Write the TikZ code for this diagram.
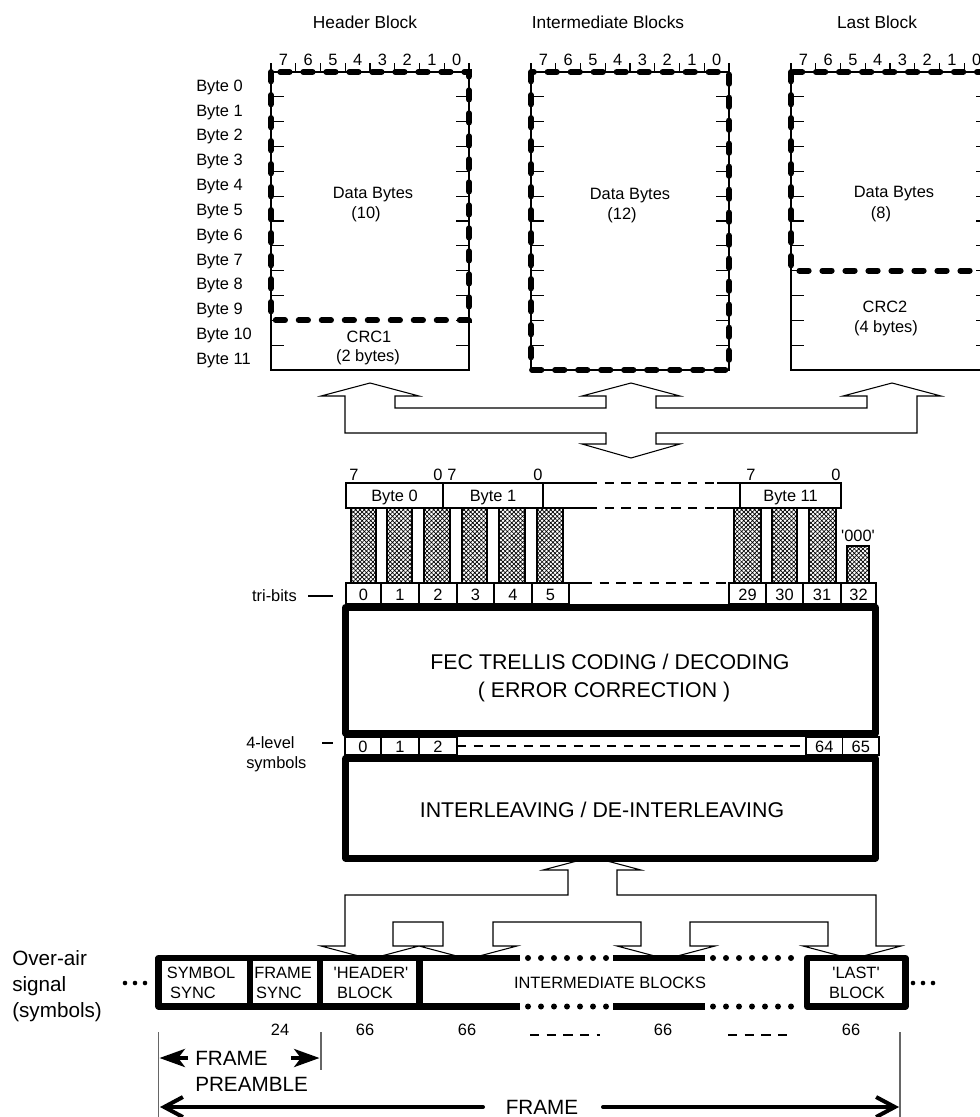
\documentclass[tikz,border=0pt]{standalone}
\usepackage{fontspec}
\setmainfont{Liberation Sans}
\usetikzlibrary{patterns.meta,arrows.meta}
\newcommand\fsA{\fontsize{12.3}{14}\selectfont}
\newcommand\fsB{\fontsize{16}{18}\selectfont}
\newcommand\fsC{\fontsize{15.5}{18}\selectfont}
\newcommand\fsT{\fontsize{13}{15}\selectfont}
\newcommand\sq{\textquotesingle}
\begin{document}
\begin{tikzpicture}[x=0.75pt,y=-0.75pt,
  txt/.style={inner sep=0pt, font=\fsA, text height=8.8pt, text depth=0pt},
  ttl/.style={inner sep=0pt, font=\fsT, text height=9.3pt, text depth=0pt},
  big/.style={inner sep=0pt, font=\fsB, text height=11.5pt, text depth=0pt},
  mid/.style={inner sep=0pt, font=\fsC, text height=11.1pt, text depth=0pt},
  hair/.style={line width=0.8pt},
  dbox/.style={line width=4.4pt, dash pattern=on 7pt off 10.25pt, line cap=round},
  heavy/.style={line width=5.25pt, line join=round},
  frm/.style={line width=4.8pt, line join=round},
  dotline/.style={line width=4.5pt, dash pattern=on 0pt off 9.75pt, line cap=round},
  finedash/.style={hair, dash pattern=on 7pt off 5.5pt},
  hatchbar/.style={hair, pattern={Hatch[angle=45,distance=2.3pt,line width=0.5pt]}},
  guide/.style={line width=0.9pt, black!60},
  ]
\useasboundingbox (0,0) rectangle (980,1117);

% ---------- titles ----------
\node[ttl] (tH) at (365,22) {Header Block};
\node[ttl] (tI) at (608,22) {Intermediate Blocks};
\node[ttl] (tL) at (877,22) {Last Block};

% ---------- top blocks ----------
\foreach \L/\nd/\nm in {271/10/h, 531/12/i, 791/8/l} {
  \draw[hair] (\L,72) rectangle ({\L+198},370);
  \foreach \k in {1,...,11} {
    \draw[hair] (\L,{72+24.83*\k}) -- ++(13,0);
    \draw[hair] ({\L+198},{72+24.83*\k}) -- ++(-13,0);
  }
  \foreach \k in {0,...,8} \draw[hair] ({\L+24.75*\k},63) -- ({\L+24.75*\k},72);
  \foreach \b [count=\c from 0] in {7,6,5,4,3,2,1,0}
    \node[txt] (bit-\nm-\b) at ({\L+24.75*\c+12.4},60) {\b};
  \draw[dbox] (\L,72) rectangle ({\L+198},{72+24.83*\nd});
}
\foreach \i in {0,...,11}
  \node[txt, anchor=west] (byte\i) at (196,{72+24.83*(\i+0.5)+1}) {Byte \i};

\node[txt] (dh1) at (373,193) {Data Bytes};
\node[txt] (dh2) at (366,213) {(10)};
\node[txt] (di1) at (630,194) {Data Bytes};
\node[txt] (di2) at (622,214) {(12)};
\node[txt] (dl1) at (894,192) {Data Bytes};
\node[txt] (dl2) at (881,213) {(8)};
\node[txt] (c11) at (369,337) {CRC1};
\node[txt] (c12) at (368,356) {(2 bytes)};
\node[txt] (c21) at (885,307) {CRC2};
\node[txt] (c22) at (886,327) {(4 bytes)};

% ---------- upper fork arrow ----------
\draw[hair, fill=white] (370,383) -- (419,396) -- (395,396) -- (395,408) -- (606,408)
  -- (606,396) -- (582,396) -- (631,383) -- (680,396) -- (656,396) -- (656,408)
  -- (867,408) -- (867,396) -- (843,396) -- (892,383) -- (941,396) -- (917,396)
  -- (917,433) -- (656,433) -- (656,444) -- (680,444) -- (631,458) -- (582,444)
  -- (606,444) -- (606,433) -- (345,433) -- (345,396) -- (321,396) -- cycle;

% ---------- byte row ----------
\draw[hair] (346,483) rectangle (443,508);
\draw[hair] (443,483) rectangle (543,508);
\draw[hair] (740,483) rectangle (841,508);
\foreach \yy in {483,508} {
  \draw[hair] (543,\yy) -- (588,\yy);
  \draw[finedash] (588,\yy) -- (717,\yy);
  \draw[hair] (717,\yy) -- (740,\yy);
}
\node[txt] (by0) at (394.5,496) {Byte 0};
\node[txt] (by1) at (493,496) {Byte 1};
\node[txt] (by11) at (790.5,496) {Byte 11};
\node[txt] (n7a) at (354,475) {7};
\node[txt] (n0a) at (438,475) {0};
\node[txt] (n7b) at (452,475) {7};
\node[txt] (n0b) at (538,475) {0};
\node[txt] (n7c) at (751,475) {7};
\node[txt] (n0c) at (836,475) {0};

% hatched bars
\foreach \a/\b in {351/376, 387/412, 424/450, 462/487, 499/525, 537/563, 734/761, 772/797, 809/836}
  \draw[hatchbar] (\a,508) rectangle (\b,583);
\draw[hatchbar] (847,546) rectangle (869,583);
\node[txt] (z000) at (858,536) {\sq 000\sq};

% tri-bit row
\foreach \a/\b/\t in {346/381/0, 381/419/1, 419/457/2, 457/494/3, 494/532/4, 532/569/5,
                      729/766/29, 766/803/30, 803/841/31, 841/876/32} {
  \draw[hair] (\a,583) rectangle (\b,604);
  \node[txt] (tb\t) at ({(\a+\b)/2},595) {\t};
}
\draw[hair] (569,583) -- (583,583);
\draw[finedash] (583,583) -- (729,583);
\node[txt, anchor=east] (tribits) at (297,596) {tri-bits};
\coordinate (trA) at (308,596);
\coordinate (trB) at (333,596);
\draw[hair] (trA) -- (trB);

% ---------- FEC ----------
\draw[heavy, fill=white] (345.5,607.5) rectangle (875.5,733);
\node[big] (fec1) at (610,662) {FEC TRELLIS CODING / DECODING};
\node[big] (fec2) at (604,690) {( ERROR CORRECTION )};

% symbol row
\foreach \a/\b/\t in {345/381/0, 381/419/1, 419/457/2, 806/842.5/64, 842.5/879/65} {
  \draw[hair] (\a,737) rectangle (\b,755);
  \node[txt] (sy\t) at ({(\a+\b)/2},747) {\t};
}
\draw[finedash] (457,746) -- (806,746);
\node[txt, anchor=west] (lev1) at (246,743) {4-level};
\node[txt, anchor=west] (lev2) at (246,763) {symbols};
\coordinate (lvA) at (322,743);
\coordinate (lvB) at (333,743);
\draw[hair] (lvA) -- (lvB);

% ---------- lower fork arrow ----------
\draw[hair, fill=white] (345,895) -- (568,895) -- (568,870) -- (543,870) -- (592,857)
  -- (641,870) -- (617,870) -- (617,895) -- (876,895) -- (876,946) -- (901,946)
  -- (852,959) -- (803,946) -- (828,946) -- (828,922) -- (690,922) -- (690,946)
  -- (715,946) -- (666,959) -- (617,946) -- (641,946) -- (641,922) -- (493,922)
  -- (493,946) -- (517,946) -- (468,959) -- (419,946) -- (443,946) -- (443,922)
  -- (393,922) -- (393,946) -- (419,946) -- (370,959) -- (321,946) -- (345,946) -- cycle;

% ---------- interleaving ----------
\draw[heavy, fill=white] (345.5,758.5) rectangle (875.5,858);
\node[big] (intl) at (602,810) {INTERLEAVING / DE-INTERLEAVING};

% ---------- frame row ----------
\fill[white] (419.5,958) rectangle (807,1006.5);
\foreach \yy in {958,1006.5} {
  \draw[frm] (419.5,\yy) -- (520,\yy);
  \draw[dotline] (528,\yy) -- (608,\yy);
  \draw[frm] (613,\yy) -- (705,\yy);
  \draw[dotline] (713,\yy) -- (802,\yy);
}
\draw[frm, fill=white] (158.5,958) rectangle (250,1006.5);
\draw[frm, fill=white] (250,958) rectangle (320,1006.5);
\draw[frm, fill=white] (320,958) rectangle (419.5,1006.5);
\draw[frm, fill=white] (807,958) rectangle (905.5,1006.5);
\foreach \xx in {125,135,145,913,923,933} \fill (\xx,983) circle (2.3);

\node[txt] (ss1) at (201,973) {SYMBOL};
\node[txt] (ss2) at (193,993) {SYNC};
\node[txt] (fs1) at (283,973) {FRAME};
\node[txt] (fs2) at (279,993) {SYNC};
\node[txt] (hb1) at (371,973) {\sq HEADER\sq};
\node[txt] (hb2) at (365,993) {BLOCK};
\node[txt] (ib) at (610,983) {INTERMEDIATE BLOCKS};
\node[txt] (lb1) at (856,973) {\sq LAST\sq};
\node[txt] (lb2) at (857,993) {BLOCK};

\node[mid, anchor=west] (oa1) at (12,958) {Over-air};
\node[mid, anchor=west] (oa2) at (12,984) {signal};
\node[mid, anchor=west] (oa3) at (12,1010) {(symbols)};

% counts
\node[txt] (k24) at (280,1030) {24};
\node[txt] (k66a) at (365,1030) {66};
\node[txt] (k66b) at (467,1030) {66};
\node[txt] (k66c) at (663,1030) {66};
\node[txt] (k66d) at (851,1030) {66};
\draw[finedash] (530,1035) -- (600,1035);
\draw[finedash] (728,1035) -- (791,1035);

% guides
\coordinate (g1a) at (158.5,1032); \coordinate (g1b) at (158.5,1117);
\coordinate (g2a) at (321,1032);   \coordinate (g2b) at (321,1070);
\coordinate (g3a) at (900,1032);   \coordinate (g3b) at (900,1117);
\draw[guide] (g1a) -- (g1b);
\draw[guide] (g2a) -- (g2b);
\draw[guide] (g3a) -- (g3b);

% preamble
\coordinate (pa1) at (188,1058); \coordinate (pa2) at (159.5,1058);
\coordinate (pb1) at (291,1058); \coordinate (pb2) at (319.5,1058);
\draw[line width=3pt, -{Stealth[length=19pt,width=13.5pt,inset=5pt]}] (pa1) -- (pa2);
\draw[line width=3pt, -{Stealth[length=19pt,width=13.5pt,inset=5pt]}] (pb1) -- (pb2);
\node[mid, anchor=west] (fp1) at (195,1058) {FRAME};
\node[mid, anchor=west] (fp2) at (195,1084) {PREAMBLE};

% frame
\coordinate (fa1) at (483,1107); \coordinate (fa2) at (160,1107);
\coordinate (fb1) at (603,1107); \coordinate (fb2) at (899,1107);
\draw[line width=3pt, line cap=round, -{Straight Barb[length=14pt,width=15pt]}] (fa1) -- (fa2);
\draw[line width=3pt, line cap=round, -{Straight Barb[length=14pt,width=15pt]}] (fb1) -- (fb2);
\node[mid] (fr) at (542,1107) {FRAME};
\end{tikzpicture}
\end{document}
